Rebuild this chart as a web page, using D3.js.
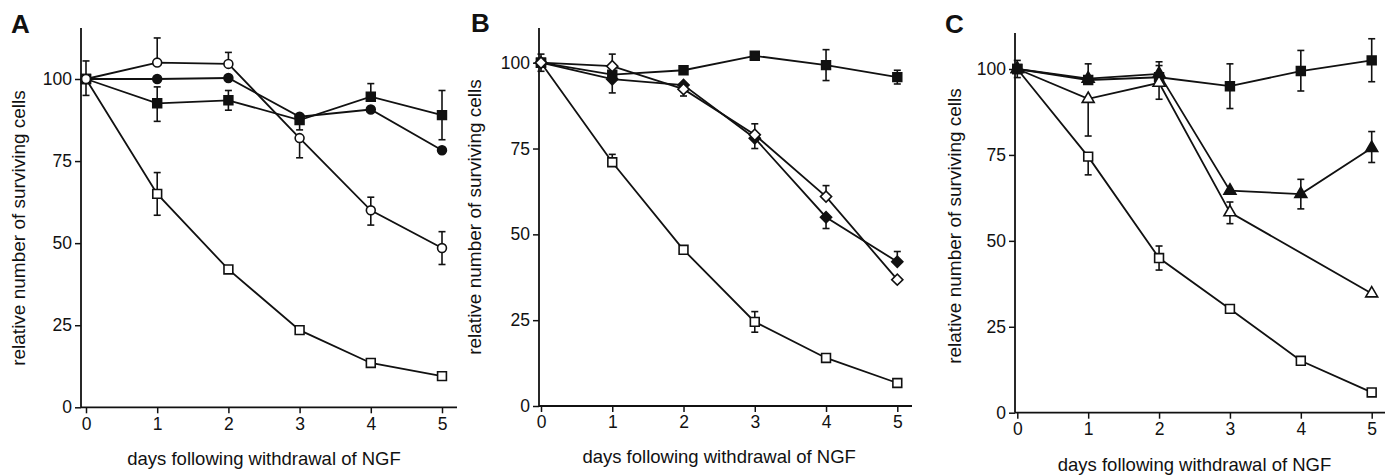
<!DOCTYPE html>
<html>
<head>
<meta charset="utf-8">
<script src="https://cdn.jsdelivr.net/npm/d3@7"></script>
<style>
  body { margin: 0; background: #fff; }
  text { font-family: "Liberation Sans", Arial, Helvetica, sans-serif; fill: #111; }
</style>
</head>
<body>
<div id="chart"></div>
<script>
// days after NGF withdrawal, shared by all three panels
var days = [0, 1, 2, 3, 4, 5];
var yTicks = [0, 25, 50, 75, 100];

// Panel A
var aOpenSquare      = [100, 65, 42, 23.5, 13.5, 9.5];
var aOpenSquareUp    = [5.5, 6.5, 0, 0, 0, 0];
var aOpenSquareDown  = [5, 6.5, 0, 0, 0, 0];
var aOpenCircle      = [100, 105, 104.6, 82, 60, 48.5];
var aOpenCircleUp    = [0, 7.5, 3.5, 0, 4, 5];
var aOpenCircleDown  = [0, 0, 0, 6, 4.5, 5];
var aFillCircle      = [100, 100, 100.3, 88.5, 90.7, 78.3];
var aFillSquare      = [100, 92.6, 93.5, 87.5, 94.6, 89];
var aFillSquareUp    = [0, 5, 3, 0, 4, 7.5];
var aFillSquareDown  = [0, 5.5, 3, 3, 0, 7.5];

// Panel B
var bOpenSquare      = [100, 71, 45.5, 24.5, 14, 6.7];
var bOpenSquareUp    = [2.5, 2.3, 0, 3, 0, 0];
var bOpenSquareDown  = [2.5, 0, 0, 3, 0, 0];
var bFillSquare      = [100, 96.5, 97.8, 102, 99.3, 95.8];
var bFillSquareUp    = [0, 0, 0, 0, 4.5, 2];
var bFillSquareDown  = [0, 0, 0, 0, 4.5, 2];
var bFillDiamond     = [100, 95.2, 93.5, 78, 55, 42];
var bFillDiamondUp   = [0, 0, 0, 0, 0, 3];
var bFillDiamondDown = [0, 4, 0, 3, 3.3, 0];
var bOpenDiamond     = [100, 99, 92.3, 79, 61, 36.8];
var bOpenDiamondUp   = [0, 3.5, 0, 3.2, 3.2, 0];
var bOpenDiamondDown = [0, 0, 2, 0, 0, 0];

// Panel C (open triangle has no point at day 4)
var cOpenSquare      = [100, 74.5, 45, 30.2, 15.1, 5.9];
var cOpenSquareUp    = [2.5, 0, 3.5, 0, 0, 0];
var cOpenSquareDown  = [2.5, 5.3, 3.5, 0, 0, 0];
var cFillSquare      = [100, 96.8, 97.6, 95, 99.4, 102.5];
var cFillSquareUp    = [0, 4.7, 4.5, 6.5, 6, 6.3];
var cFillSquareDown  = [0, 0, 0, 6.5, 5.8, 6.2];
var cFillTriangle    = [100, 97.2, 98.6, 64.6, 63.6, 77];
var cFillTriangleUp  = [0, 0, 2.4, 0, 4.3, 4.8];
var cFillTriangleDown= [0, 0, 0, 0, 4.3, 4.2];
var cOpenTriangle    = [100, 91.3, 96, 58.3, null, 34.7];
var cOpenTriangleUp  = [0, 0, 0, 3, 0, 0];
var cOpenTriangleDown= [0, 10.8, 4.8, 3.3, 0, 0];

var none = [0, 0, 0, 0, 0, 0];

var panels = [
  { letter: "A", letterX: 11, letterY: 33, left: 81, x0: 86, x5: 442, xEnd: 457,
    yBase: 407.3, y100: 79, yTop: 28, xLabelY: 465, yLabelX: 25, yLabelY: 228,
    series: [
      { v: aOpenSquare, up: aOpenSquareUp, down: aOpenSquareDown, mark: "square", fill: false },
      { v: aFillSquare, up: aFillSquareUp, down: aFillSquareDown, mark: "square", fill: true },
      { v: aFillCircle, up: none, down: none, mark: "circle", fill: true },
      { v: aOpenCircle, up: aOpenCircleUp, down: aOpenCircleDown, mark: "circle", fill: false }
    ] },
  { letter: "B", letterX: 471, letterY: 32, left: 539, x0: 541, x5: 897.3, xEnd: 912,
    yBase: 406, y100: 62.7, yTop: 28, xLabelY: 463, yLabelX: 481, yLabelY: 217,
    series: [
      { v: bOpenSquare, up: bOpenSquareUp, down: bOpenSquareDown, mark: "square", fill: false },
      { v: bFillSquare, up: bFillSquareUp, down: bFillSquareDown, mark: "square", fill: true },
      { v: bFillDiamond, up: bFillDiamondUp, down: bFillDiamondDown, mark: "diamond", fill: true },
      { v: bOpenDiamond, up: bOpenDiamondUp, down: bOpenDiamondDown, mark: "diamond", fill: false }
    ] },
  { letter: "C", letterX: 945, letterY: 33, left: 1015, x0: 1017.3, x5: 1371.7, xEnd: 1385,
    yBase: 412.7, y100: 69, yTop: 33, xLabelY: 471, yLabelX: 961, yLabelY: 226,
    series: [
      { v: cOpenSquare, up: cOpenSquareUp, down: cOpenSquareDown, mark: "square", fill: false },
      { v: cFillSquare, up: cFillSquareUp, down: cFillSquareDown, mark: "square", fill: true },
      { v: cOpenTriangle, up: cOpenTriangleUp, down: cOpenTriangleDown, mark: "triangle", fill: false },
      { v: cFillTriangle, up: cFillTriangleUp, down: cFillTriangleDown, mark: "triangle", fill: true }
    ] }
];

var svg = d3.select("#chart").append("svg")
  .attr("width", 1389).attr("height", 475);

var symbols = {
  square:   d3.symbol().type(d3.symbolSquare).size(78),
  circle:   d3.symbol().type(d3.symbolCircle).size(62),
  diamond:  d3.symbol().type(d3.symbolSquare).size(62),
  triangle: d3.symbol().type(d3.symbolTriangle).size(62)
};

panels.forEach(function (p) {
  var g = svg.append("g");
  var x = d3.scaleLinear().domain([0, 5]).range([p.x0, p.x5]);
  var y = d3.scaleLinear().domain([0, 100]).range([p.yBase, p.y100]);

  // axes
  var yAxis = g.append("g").attr("transform", "translate(" + p.left + ",0)")
    .call(d3.axisLeft(y).tickValues(yTicks).tickSize(6).tickPadding(3).tickSizeOuter(0));
  yAxis.select(".domain").remove();
  var xAxis = g.append("g").attr("transform", "translate(0," + p.yBase + ")")
    .call(d3.axisBottom(x).tickValues(days).tickFormat(d3.format("d"))
      .tickSize(6).tickPadding(4).tickSizeOuter(0));
  xAxis.select(".domain").remove();
  g.selectAll(".tick line").attr("stroke", "#111").attr("stroke-width", 1.5);
  g.selectAll(".tick text").style("font-size", "17.5px")
    .style("font-family", "'Liberation Sans', Arial, sans-serif").attr("fill", "#111");

  g.append("line").attr("x1", p.left).attr("x2", p.left)
    .attr("y1", p.yTop).attr("y2", p.yBase)
    .attr("stroke", "#111").attr("stroke-width", 1.8);
  g.append("line").attr("x1", p.left).attr("x2", p.xEnd)
    .attr("y1", p.yBase).attr("y2", p.yBase)
    .attr("stroke", "#111").attr("stroke-width", 1.8);

  // labels
  g.append("text").attr("x", (p.x0 + p.x5) / 2).attr("y", p.xLabelY)
    .attr("text-anchor", "middle").style("font-size", "18.5px")
    .text("days following withdrawal of NGF");
  g.append("text")
    .attr("transform", "translate(" + p.yLabelX + "," + p.yLabelY + ") rotate(-90)")
    .attr("text-anchor", "middle").style("font-size", "19px")
    .text("relative number of surviving cells");
  g.append("text").attr("x", p.letterX).attr("y", p.letterY)
    .style("font-size", "26px").style("font-weight", "bold")
    .text(p.letter);

  var line = d3.line().x(function (d) { return x(d.day); }).y(function (d) { return y(d.val); });

  p.series.forEach(function (s) {
    var pts = days.map(function (d, i) {
      return { day: d, val: s.v[i], up: s.up[i], down: s.down[i] };
    }).filter(function (d) { return d.val !== null; });
    s.pts = pts;
    g.append("path").datum(pts).attr("d", line)
      .attr("fill", "none").attr("stroke", "#111").attr("stroke-width", 1.8);
  });

  // error bars
  p.series.forEach(function (s) {
    s.pts.forEach(function (d) {
      [[d.up, 1], [d.down, -1]].forEach(function (e) {
        if (!e[0]) return;
        var cx = x(d.day), y1 = y(d.val), y2 = y(d.val + e[1] * e[0]);
        g.append("line").attr("x1", cx).attr("x2", cx).attr("y1", y1).attr("y2", y2)
          .attr("stroke", "#111").attr("stroke-width", 1.6);
        g.append("line").attr("x1", cx - 3.5).attr("x2", cx + 3.5).attr("y1", y2).attr("y2", y2)
          .attr("stroke", "#111").attr("stroke-width", 1.6);
      });
    });
  });

  // markers on top
  p.series.forEach(function (s) {
    g.selectAll(null).data(s.pts).enter().append("path")
      .attr("d", symbols[s.mark]())
      .attr("transform", function (d) {
        return "translate(" + x(d.day) + "," + y(d.val) + ")" + (s.mark === "diamond" ? " rotate(45)" : "");
      })
      .attr("fill", s.fill ? "#111" : "#fff")
      .attr("stroke", "#111").attr("stroke-width", 1.6);
  });
});
</script>
</body>
</html>
